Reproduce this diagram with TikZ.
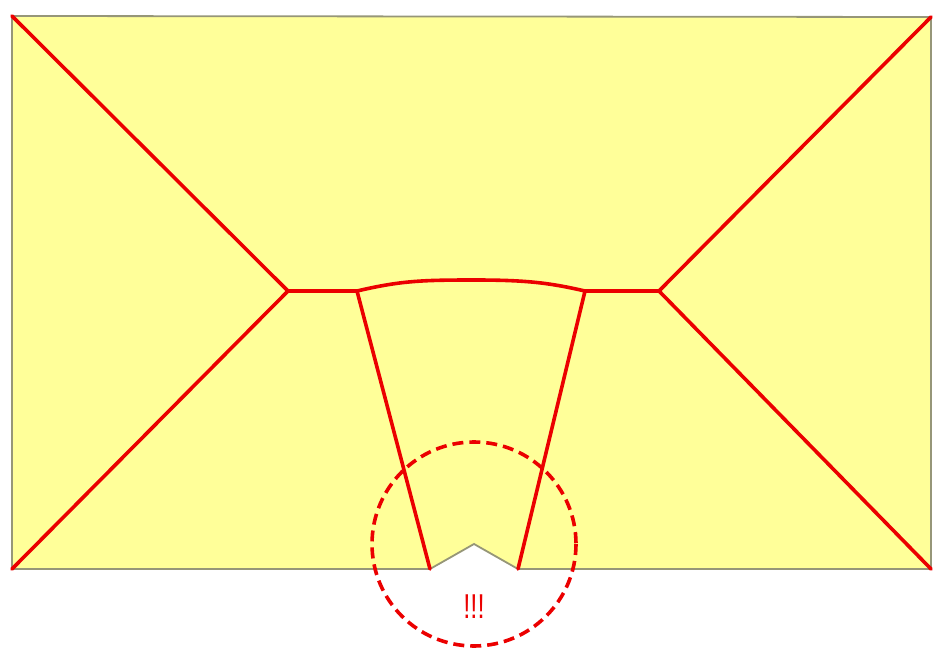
\documentclass[tikz,border=0pt]{standalone}
\usepackage{fontspec}
\setmainfont{Liberation Sans}
\definecolor{fillyel}{RGB}{255,255,153}
\definecolor{edgegray}{RGB}{150,150,120}
\definecolor{ridgered}{RGB}{235,0,0}
\tikzset{
  ridge/.style={draw=ridgered, line width=3.6pt, line join=round, line cap=round},
  outline/.style={draw=edgegray, line width=1.8pt, fill=fillyel, line join=miter},
  warncircle/.style={draw=ridgered, line width=3.6pt, dash pattern=on 11pt off 6pt},
}
\begin{document}
\begin{tikzpicture}[x=1pt,y=-1pt]
\useasboundingbox (0,0) rectangle (945,660);
% corners and vertices
\coordinate (tl) at (12,16);
\coordinate (tr) at (931,17);
\coordinate (bl) at (12,569);
\coordinate (br) at (931,569);
\coordinate (nl) at (430,569);
\coordinate (apex) at (474,544);
\coordinate (nr) at (518,569);
\coordinate (jl) at (288,291);
\coordinate (jr) at (659,291);
\coordinate (kl) at (357,291);
\coordinate (kr) at (585,291);
% outline
\path[outline] (tl) -- (tr) -- (br) -- (nr) -- (apex) -- (nl) -- (bl) -- cycle;
% ridges
\draw[ridge] (tl) -- (jl) -- (bl);
\draw[ridge] (tr) -- (jr) -- (br);
\draw[ridge] (jl) -- (kl);
\draw[ridge] (jr) -- (kr);
\draw[ridge] (kl) .. controls (400,281) and (420,280) .. (474,280) .. controls (528,280) and (550,283) .. (kr);
\draw[ridge] (kl) -- (nl);
\draw[ridge] (kr) -- (nr);
% circle and warning
\draw[warncircle] (apex) circle[radius=102];
\node[text=ridgered, font=\fontsize{30}{30}\selectfont, yscale=1.15, xscale=0.85, inner sep=0pt] (warn) at (474,607) {!!!};
\end{tikzpicture}
\end{document}
